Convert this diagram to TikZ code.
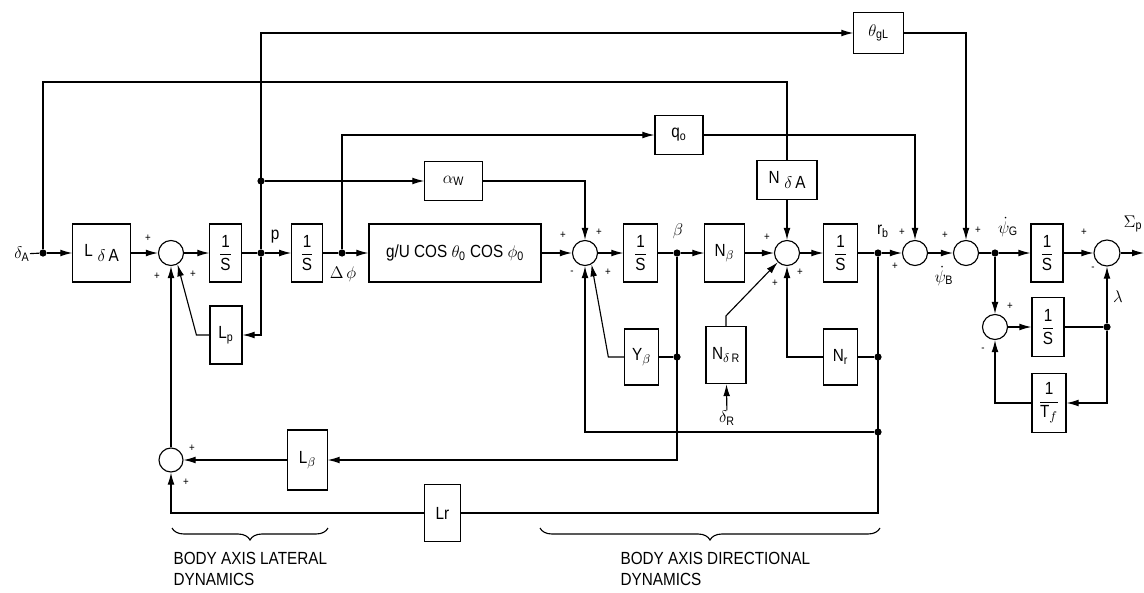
\documentclass[tikz,border=0pt]{standalone}
\usepackage{amsmath}
\usepackage{fontspec}
\setmainfont[FakeStretch=0.87]{Liberation Sans}
\usetikzlibrary{arrows.meta, positioning, decorations.pathreplacing}

\begin{document}
\begin{tikzpicture}[x=0.025cm, y=-0.025cm, line width=0.8pt,
  >={Latex[length=3mm,width=1.7mm]},
  box/.style={draw, inner sep=1pt, minimum height=1.45cm, font=\fontsize{12.5}{15}\selectfont},
  gain/.style={draw, inner sep=1pt, minimum height=0.98cm, font=\fontsize{12.5}{15}\selectfont},
  sum/.style={draw, circle, minimum size=6.25mm, inner sep=0pt},
  dot/.style={circle, fill, inner sep=0pt, minimum size=1.8mm},
  sgn/.style={font=\fontsize{8}{9}\selectfont, inner sep=0pt},
  lbl/.style={font=\fontsize{12.5}{15}\selectfont, inner sep=0pt}]
\useasboundingbox (0,0) rectangle (1144,592);
% Forward path
\node[lbl, anchor=east] (dA) at (30,254) {$\delta_{\text{A}}$};
\node[dot] (jA) at (43,253) {};
\node[box, minimum width=1.43cm] (LdA) at (101.5,253) {L\;\raisebox{-.5ex}{$\delta$\,A}};
\node[sum] (s1) at (171,253) {};
\node[box, minimum width=0.78cm] (i1) at (225.5,253) {$\dfrac{\text{1}}{\text{S}}$};
\node[dot] (jp) at (261,253) {};
\node[box, minimum width=0.76cm] (i2) at (307,253) {$\dfrac{\text{1}}{\text{S}}$};
\node[dot] (jphi) at (342,253) {};
\node[box, minimum width=4.3cm] (gU) at (455,253) {g/U COS $\theta_{\text{0}}$ COS $\phi_{\text{0}}$};
\node[sum] (s2) at (585,253) {};
\node[box, minimum width=0.83cm] (i3) at (640.5,253) {$\dfrac{\text{1}}{\text{S}}$};
\node[dot] (jb) at (677,253) {};
\node[box, minimum width=0.98cm] (Nb) at (724.5,253) {N$_\beta$};
\node[sum] (s3) at (787,253) {};
\node[box, minimum width=0.83cm] (i4) at (840.5,253) {$\dfrac{\text{1}}{\text{S}}$};
\node[dot] (jr) at (878,253) {};
\node[sum] (s4) at (915,253) {};
\node[sum] (s5) at (966,253) {};
\node[dot] (jG) at (995,253) {};
\node[box, minimum width=0.8cm] (i5) at (1047,253) {$\dfrac{\text{1}}{\text{S}}$};
\node[sum, minimum size=6.5mm] (s6) at (1107,253) {};
\coordinate (out) at (1144,253);
% Feedback blocks
\node[box, minimum width=0.8cm] (Lp) at (226,335) {L$_{\text{p}}$};
\node[box, minimum width=0.83cm, minimum height=1.4cm] (Yb) at (641.5,357) {Y$_\beta$};
\node[dot] (jY) at (677,357) {};
\node[box, minimum width=1cm, minimum height=1.43cm] (NdR) at (726,355) {N$_{\delta\,\text{R}}$};
\node[lbl] (dR) at (727,418) {$\delta_{\text{R}}$};
\node[box, minimum width=0.83cm, minimum height=1.4cm] (Nr) at (840.5,357) {N$_{\text{r}}$};
\node[dot] (jNr) at (878,357) {};
\node[dot] (jlow) at (878,432) {};
\node[sum, minimum size=6cm/10] (sL) at (171,460) {};
\node[box, minimum width=0.98cm, minimum height=1.5cm] (Lb) at (307.5,460) {L$_\beta$};
\node[box, minimum width=0.88cm, minimum height=1.43cm] (Lr) at (442.5,513) {Lr};
% Upper gains
\node[dot] (jW) at (261,181) {};
\node[gain, minimum width=1.43cm] (aW) at (453.5,181) {$\alpha_{\text{W}}$};
\node[gain, minimum width=1.2cm] (q0) at (679,135) {q$_{\text{o}}$};
\node[gain, minimum width=1.5cm] (NdA) at (787,180) {N\;\raisebox{-.5ex}{$\delta$\,A}};
\node[gain, minimum width=1.23cm, minimum height=1.02cm] (tgL) at (878.5,33) {$\theta_{\text{gL}}$};
% Gimbal loop
\node[sum] (s7) at (995,327) {};
\node[box, minimum width=0.8cm, minimum height=1.48cm] (i6) at (1048,327) {$\dfrac{\text{1}}{\text{S}}$};
\node[dot] (jl) at (1107,327) {};
\node[box, minimum width=0.85cm, minimum height=1.48cm] (iTf) at (1049,403) {$\dfrac{\text{1}}{\text{T}_f}$};

% Forward connections
\draw (dA) -- (jA);
\draw[->] (jA) -- (LdA);
\draw[->] (LdA) -- (s1);
\draw[->] (s1) -- (i1);
\draw (i1) -- (jp);
\draw[->] (jp) -- (i2);
\draw (i2) -- (jphi);
\draw[->] (jphi) -- (gU);
\draw[->] (gU) -- (s2);
\draw[->] (s2) -- (i3);
\draw (i3) -- (jb);
\draw[->] (jb) -- (Nb);
\draw[->] (Nb) -- (s3);
\draw[->] (s3) -- (i4);
\draw (i4) -- (jr);
\draw[->] (jr) -- (s4);
\draw[->] (s4) -- (s5);
\draw (s5) -- (jG);
\draw[->] (jG) -- (i5);
\draw[->] (i5) -- (s6);
\draw[->] (s6) -- (out);
% Upper paths
\draw (jA) -- (jA |- 0,82) -| (NdA);
\draw[->] (NdA) -- (s3);
\draw[->] (jp) -- (jp |- 0,33) -- (tgL);
\draw[->] (tgL) -| (s5);
\draw[->] (jW) -- (aW);
\draw[->] (aW) -| (s2);
\draw[->] (jphi) |- (q0);
\draw[->] (q0) -| (s4);
% Feedback paths
\draw[->] (jp) |- (Lp);
\draw[->] (Lp.west) -- ++(-13,0) -- (s1.-60);
\draw (jY) -- (Yb);
\draw[->] (Yb.west) -- ++(-16,0) -- (s2.-60);
\draw[->] (jb) |- (Lb);
\draw[->] (Lb) -- (sL);
\draw[->] (sL) -- (s1);
\draw[->] (NdR.north) -- ++(0,-10) -- (s3.-135);
\draw[->] (dR) -- (NdR);
\draw (jNr) -- (Nr);
\draw[->] (Nr.west) -| (s3);
\draw (jr) |- (Lr);
\draw[->] (Lr) -| (sL);
\draw[->] (jlow) -| (s2);
% Gimbal loop connections
\draw[->] (jG) -- (s7);
\draw[->] (s7) -- (i6);
\draw (i6) -- (jl);
\draw[->] (jl) -- (s6);
\draw[->] (jl) |- (iTf);
\draw[->] (iTf) -| (s7);

% Signs
\node[sgn] at (148,238) {+};
\node[sgn] at (157,276) {+};
\node[sgn] at (193,274) {+};
\node[sgn] at (563,235) {+};
\node[sgn] at (599,232) {+};
\node[sgn] at (572,273) {-};
\node[sgn] at (608,272) {+};
\node[sgn] at (767,237) {+};
\node[sgn] at (800,272) {+};
\node[sgn] at (775,283) {+};
\node[sgn] at (902,232) {+};
\node[sgn] at (895,266) {+};
\node[sgn] at (945,235) {+};
\node[sgn] at (978,230) {+};
\node[sgn] at (1084,232) {+};
\node[sgn] at (1093,269) {-};
\node[sgn] at (1010,306) {+};
\node[sgn] at (983,350) {-};
\node[sgn] at (192,448) {+};
\node[sgn] at (186,482) {+};
% Signal labels
\node[lbl] (lp) at (275,237) {p};
\node[lbl] (ldphi) at (343,274) {$\Delta\,\phi$};
\node[lbl] (lbeta) at (678,231) {$\beta$};
\node[lbl] (lrb) at (883,231) {r$_{\text{b}}$};
\node[lbl] (lpsiB) at (944,276) {$\dot{\psi}_{\text{B}}$};
\node[lbl] (lpsiG) at (1008,227) {$\dot{\psi}_{\text{G}}$};
\node[lbl] (lSp) at (1133,224) {$\Sigma_{\text{p}}$};
\node[lbl] (llam) at (1118,297) {$\lambda$};
% Braces
\draw[decorate, decoration={brace, mirror, amplitude=3mm}] (172,528) -- (328,528);
\draw[decorate, decoration={brace, mirror, amplitude=3mm}] (540,528) -- (880,528);
\node[lbl, anchor=north west, align=left, font=\fontsize{12.5}{15}\selectfont] (tlat) at (173,552) {BODY AXIS LATERAL\\DYNAMICS};
\node[lbl, anchor=north west, align=left, font=\fontsize{12.5}{15}\selectfont] (tdir) at (620,552) {BODY AXIS DIRECTIONAL\\DYNAMICS};
\end{tikzpicture}
\end{document}
